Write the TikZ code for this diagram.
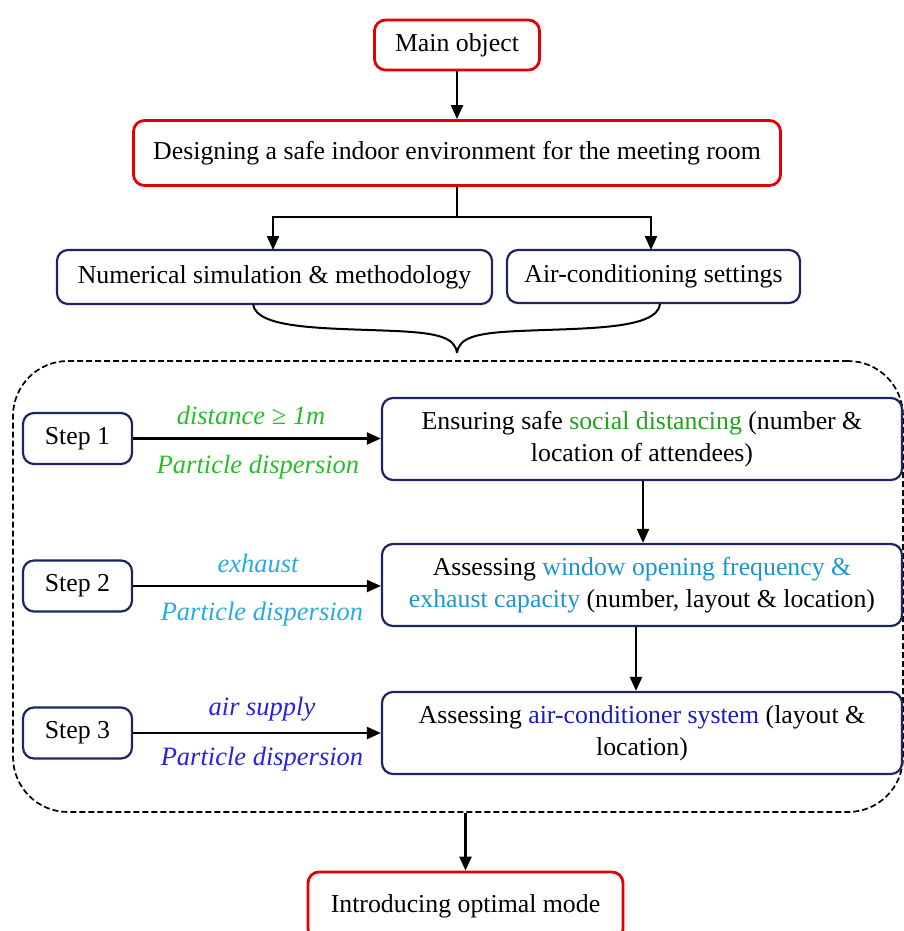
\documentclass[tikz,border=0pt]{standalone}
\usepackage{fontspec}
\setmainfont{Liberation Serif}
\newfontfamily\labfont{Liberation Serif}
\usetikzlibrary{arrows.meta}
\definecolor{boxred}{RGB}{226,0,0}
\definecolor{navy}{RGB}{30,38,96}
\definecolor{cgreen}{RGB}{40,190,40}
\definecolor{cgreenT}{RGB}{34,160,34}
\definecolor{clblue}{RGB}{40,170,230}
\definecolor{clblueT}{RGB}{25,150,210}
\definecolor{cblue}{RGB}{35,35,225}
\definecolor{cblueT}{RGB}{25,25,200}
\tikzset{
  redbox/.style={draw=boxred, line width=2.8pt, rounded corners=11pt, align=center, inner sep=0pt},
  bluebox/.style={draw=navy, line width=2.2pt, rounded corners=11pt, align=center, inner sep=0pt},
  conn/.style={line width=2.2pt, -{Triangle[length=14pt,width=12pt]}},
  plain/.style={line width=2.2pt},
  lab/.style={font=\fontsize{26.5}{30}\selectfont\labfont\itshape, inner sep=0pt},
  dashbox/.style={draw, line width=1.7pt, dash pattern=on 6pt off 3pt, rounded corners=55pt, inner sep=0pt},
}
\begin{document}
\begin{tikzpicture}[x=1pt,y=-1pt, font=\fontsize{25.8}{32}\selectfont]
\useasboundingbox (0,0) rectangle (904,931);
% top boxes
\node[redbox, minimum width=165pt, minimum height=50pt] (main) at (457,45) {Main object};
\node[redbox, minimum width=647pt, minimum height=65pt] (design) at (457,153) {Designing a safe indoor environment for the meeting room};
\node[bluebox, minimum width=435pt, minimum height=54pt] (num) at (274.5,277) {Numerical simulation \& methodology};
\node[bluebox, minimum width=293pt, minimum height=53pt] (air) at (653.5,276.5) {Air-conditioning settings};
\draw[conn] (main.south) -- (design.north);
\coordinate (split) at (457,217);
\draw[plain] (design.south) -- (split);
\draw[conn] (split) -| (273,250);
\draw[conn] (split) -| (651,250);
% brace
\coordinate (bl) at (253,304);
\coordinate (br) at (660,304);
\coordinate (btip) at (457,353);
\draw[line width=2pt] (bl) .. controls (256,330) and (330,328) .. (395,331)
  .. controls (440,333) and (455,338) .. (btip);
\draw[line width=2pt] (br) .. controls (657,330) and (584,328) .. (519,331)
  .. controls (474,333) and (459,338) .. (btip);
% dashed group
\node[dashbox, minimum width=890pt, minimum height=451pt] (grp) at (458,586.5) {};
% steps
\node[bluebox, minimum width=109pt, minimum height=51pt] (s1) at (77.5,438.5) {Step 1};
\node[bluebox, minimum width=109pt, minimum height=51pt] (s2) at (77.5,586) {Step 2};
\node[bluebox, minimum width=109pt, minimum height=51pt] (s3) at (77.5,733) {Step 3};
\node[bluebox, minimum width=520pt, minimum height=82pt] (e1) at (642,439)
  {Ensuring safe \textcolor{cgreenT}{social distancing} (number \&\\ location of attendees)};
\node[bluebox, minimum width=520pt, minimum height=82pt] (e2) at (642,585)
  {Assessing \textcolor{clblueT}{window opening frequency \&}\\ \textcolor{clblueT}{exhaust capacity} (number, layout \& location)};
\node[bluebox, minimum width=520pt, minimum height=82pt] (e3) at (642,733)
  {Assessing \textcolor{cblueT}{air-conditioner system} (layout \&\\ location)};
\draw[conn] (s1.east) -- (e1.west |- s1.east);
\draw[conn] (s2.east) -- (e2.west |- s2.east);
\draw[conn] (s3.east) -- (e3.west |- s3.east);
\draw[conn] (e1.south -| 643,0) -- (e2.north -| 643,0);
\draw[conn] (e2.south -| 636,0) -- (e3.north -| 636,0);
% labels
\node[lab, text=cgreen] (l1a) at (251,415) {distance ≥ 1m};
\node[lab, text=cgreen] (l1b) at (258,467) {Particle dispersion};
\node[lab, text=clblue] (l2a) at (258,563) {exhaust};
\node[lab, text=clblue] (l2b) at (262,614) {Particle dispersion};
\node[lab, text=cblue] (l3a) at (262,709) {air supply};
\node[lab, text=cblue] (l3b) at (262,759) {Particle dispersion};
% bottom
\node[redbox, minimum width=315pt, minimum height=68pt] (intro) at (465.5,906) {Introducing optimal mode};
\draw[conn] (grp.south -| intro.north) -- (intro.north);
\end{tikzpicture}
\end{document}
